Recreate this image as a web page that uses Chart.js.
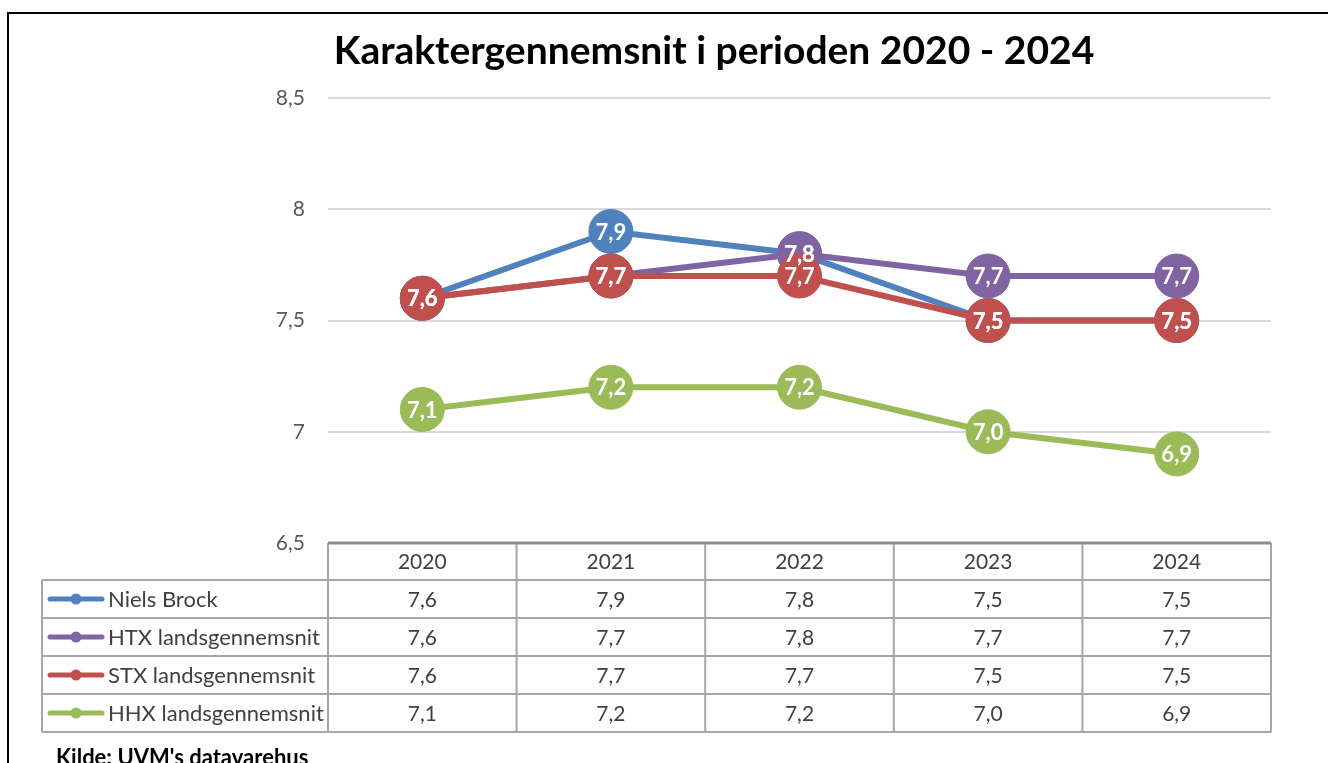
<!DOCTYPE html>
<html>
<head>
<meta charset="utf-8">
<script src="https://cdn.jsdelivr.net/npm/chart.js@4"></script>
<style>
  html, body { margin: 0; padding: 0; background: #fff; }
  #wrap { position: relative; width: 1328px; height: 763px; }
</style>
</head>
<body>
<div id="wrap"><canvas id="chart" width="1328" height="763"></canvas></div>
<script>
const years = ['2020', '2021', '2022', '2023', '2024'];
const seriesNames = ['Niels Brock', 'HTX landsgennemsnit', 'STX landsgennemsnit', 'HHX landsgennemsnit'];
const nielsBrock = [7.6, 7.9, 7.8, 7.5, 7.5];
const htx = [7.6, 7.7, 7.8, 7.7, 7.7];
const stx = [7.6, 7.7, 7.7, 7.5, 7.5];
const hhx = [7.1, 7.2, 7.2, 7.0, 6.9];
const seriesColors = ['#4F81BD', '#8064A2', '#C0504D', '#9BBB59'];
const yMin = 6.5, yMax = 8.5, yStep = 0.5;

const titleText = 'Karaktergennemsnit i perioden 2020 - 2024';
const sourceText = "Kilde: UVM's datavarehus";
const FONT = 'Lato, "Open Sans", sans-serif';

const fmt = v => v.toFixed(1).replace('.', ',');
const fmtTick = v => String(v).replace('.', ',');

const allSeries = [nielsBrock, htx, stx, hhx];

// frame + title
const framePlugin = {
  id: 'frame',
  beforeDraw(chart) {
    const ctx = chart.ctx;
    ctx.save();
    ctx.fillStyle = '#fff';
    ctx.fillRect(0, 0, chart.width, chart.height);
    ctx.strokeStyle = '#000';
    ctx.lineWidth = 2;
    ctx.beginPath();
    ctx.moveTo(8, chart.height);
    ctx.lineTo(8, 13);
    ctx.lineTo(chart.width, 13);
    ctx.stroke();
    ctx.fillStyle = '#000';
    ctx.font = 'bold 39px ' + FONT;
    ctx.textAlign = 'center';
    ctx.textBaseline = 'middle';
    ctx.fillText(titleText, 714, 51);
    ctx.restore();
  }
};

// white value labels inside the markers
const labelPlugin = {
  id: 'valueLabels',
  afterDatasetsDraw(chart) {
    const ctx = chart.ctx;
    ctx.save();
    ctx.font = 'bold 22px ' + FONT;
    ctx.fillStyle = '#fff';
    ctx.textAlign = 'center';
    ctx.textBaseline = 'middle';
    chart.data.datasets.forEach((ds, i) => {
      const meta = chart.getDatasetMeta(i);
      meta.data.forEach((pt, j) => {
        ctx.fillText(fmt(ds.data[j]), pt.x, pt.y + 1);
      });
    });
    ctx.restore();
  }
};

// data table under the plot
const tablePlugin = {
  id: 'dataTable',
  afterDraw(chart) {
    const ctx = chart.ctx;
    const xs = chart.scales.x;
    const area = chart.chartArea;
    const step = xs.getPixelForValue(1) - xs.getPixelForValue(0);
    const edges = years.map((y, i) => xs.getPixelForValue(i) - step / 2);
    edges.push(xs.getPixelForValue(years.length - 1) + step / 2);
    const top = area.bottom;
    const headH = 37, rowH = 38;
    const leftX = 42;
    const bottom = top + headH + rowH * seriesNames.length;

    ctx.save();
    ctx.strokeStyle = '#A6A6A6';
    ctx.lineWidth = 2;
    ctx.beginPath();
    edges.forEach(x => { ctx.moveTo(x, top); ctx.lineTo(x, bottom); });
    ctx.moveTo(leftX, top + headH); ctx.lineTo(leftX, bottom);
    for (let r = 0; r <= seriesNames.length; r++) {
      const y = top + headH + r * rowH;
      ctx.moveTo(leftX, y); ctx.lineTo(edges[edges.length - 1], y);
    }
    ctx.stroke();
    ctx.strokeStyle = '#8C8C8C';
    ctx.lineWidth = 3;
    ctx.beginPath();
    ctx.moveTo(edges[0], top); ctx.lineTo(edges[edges.length - 1], top);
    ctx.stroke();

    ctx.font = '21px ' + FONT;
    ctx.fillStyle = '#404040';
    ctx.textAlign = 'center';
    ctx.textBaseline = 'middle';
    years.forEach((y, i) => ctx.fillText(y, xs.getPixelForValue(i), top + headH / 2 + 1));
    allSeries.forEach((data, r) => {
      const cy = top + headH + r * rowH + rowH / 2 + 1;
      data.forEach((v, i) => ctx.fillText(fmt(v), xs.getPixelForValue(i), cy));
    });

    // legend keys
    ctx.textAlign = 'left';
    ctx.font = '22px ' + FONT;
    seriesNames.forEach((name, r) => {
      const cy = top + headH + r * rowH + rowH / 2;
      ctx.strokeStyle = seriesColors[r];
      ctx.lineWidth = 5;
      ctx.lineCap = 'round';
      ctx.beginPath();
      ctx.moveTo(50, cy); ctx.lineTo(102, cy);
      ctx.stroke();
      ctx.fillStyle = seriesColors[r];
      ctx.beginPath();
      ctx.arc(76, cy, 5.5, 0, Math.PI * 2);
      ctx.fill();
      ctx.fillStyle = '#404040';
      ctx.fillText(name, 108, cy + 1);
    });

    ctx.fillStyle = '#000';
    ctx.font = 'bold 22px ' + FONT;
    ctx.fillText(sourceText, 56, bottom + 26);
    ctx.restore();
  }
};

const datasets = seriesNames.map((name, i) => ({
  label: name,
  data: allSeries[i],
  borderColor: seriesColors[i],
  backgroundColor: seriesColors[i],
  pointBackgroundColor: seriesColors[i],
  pointBorderColor: seriesColors[i],
  borderWidth: 6,
  pointRadius: 22,
  pointBorderWidth: 1,
  tension: 0,
  order: seriesNames.length - i
}));

new Chart(document.getElementById('chart'), {
  type: 'line',
  data: { labels: years, datasets },
  options: {
    responsive: false,
    animation: false,
    layout: { padding: { left: 0, right: 57, top: 98, bottom: 220 } },
    plugins: {
      legend: { display: false },
      title: { display: false },
      tooltip: { enabled: false }
    },
    scales: {
      x: { type: 'category', offset: true, display: false },
      y: {
        min: yMin,
        max: yMax,
        afterFit(scale) { scale.width = 328; },
        border: { display: false },
        grid: { color: '#D9D9D9', lineWidth: 2, drawTicks: false },
        ticks: {
          stepSize: yStep,
          padding: 23,
          color: '#595959',
          font: { family: FONT, size: 21 },
          callback: v => fmtTick(v)
        }
      }
    }
  },
  plugins: [framePlugin, labelPlugin, tablePlugin]
});
</script>
</body>
</html>
